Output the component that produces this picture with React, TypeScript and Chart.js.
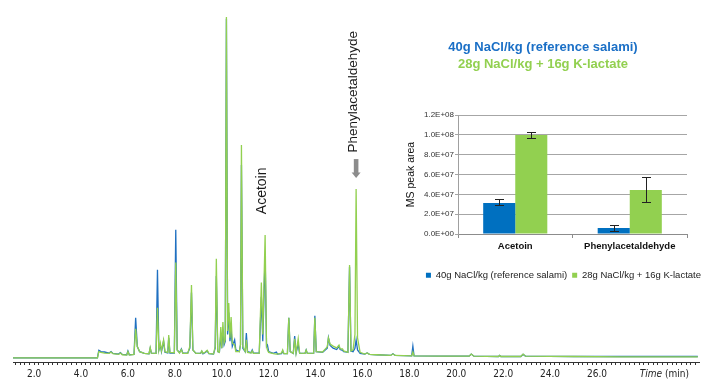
import React, { useEffect, useRef } from 'react';
import { Chart, registerables } from 'chart.js';

Chart.register(...registerables);

// ---------- Chromatogram data (time in min, relative intensity %) ----------
const timeMin = [
  1.10, 4.70, 4.76, 4.85, 5.00, 5.20, 5.28, 5.36, 5.60, 5.68, 5.76, 5.95, 6.00, 6.06, 6.26, 6.33, 6.40, 6.50, 6.70, 6.90,
  6.95, 7.00, 7.20, 7.26, 7.32, 7.38, 7.43, 7.52, 7.58, 7.70, 7.74, 7.79, 7.98, 8.04, 8.10, 8.20, 8.28, 8.34, 8.55, 8.64,
  8.71, 8.77, 8.90, 9.10, 9.15, 9.20, 9.30, 9.38, 9.45, 9.65, 9.72, 9.77, 9.83, 9.90, 9.96, 10.00, 10.05, 10.10, 10.15, 10.20,
  10.25, 10.30, 10.35, 10.40, 10.45, 10.55, 10.60, 10.75, 10.80, 10.84, 10.90, 11.00, 11.05, 11.10, 11.25, 11.30, 11.35, 11.60, 11.69, 11.75,
  11.85, 11.91, 11.95, 12.00, 12.20, 12.33, 12.38, 12.55, 12.60, 12.65, 12.80, 12.86, 12.92, 13.05, 13.11, 13.17, 13.26, 13.32, 13.55, 13.60,
  13.65, 13.92, 13.97, 14.03, 14.30, 14.50, 14.55, 14.62, 14.75, 14.90, 15.00, 15.05, 15.15, 15.20, 15.38, 15.45, 15.51, 15.60, 15.68, 15.73,
  15.79, 15.90, 16.10, 16.20, 16.30, 16.60, 17.20, 17.30, 17.40, 18.10, 18.15, 18.20, 19.50, 20.55, 20.64, 20.75, 21.80, 21.85, 21.90, 22.75,
  22.85, 22.95, 25.00, 27.00, 30.30,
];
const blueSignal = [
  1.2, 1.2, 3.4, 3.0, 2.9, 2.6, 3.0, 2.5, 2.3, 2.7, 2.2, 2.1, 3.2, 2.1, 2.2, 12.8, 4.5, 3.0, 2.5, 2.4,
  4.0, 2.6, 2.5, 26.7, 3.5, 5.0, 3.0, 6.0, 2.8, 2.6, 7.0, 2.6, 2.6, 38.3, 3.5, 2.7, 3.8, 2.6, 2.6, 4.0,
  20.1, 3.5, 2.5, 2.5, 3.1, 2.4, 2.8, 3.2, 2.4, 2.3, 4.0, 24.9, 3.0, 2.8, 8.0, 4.0, 9.0, 5.0, 6.0, 99.5,
  8.0, 14.3, 6.0, 9.3, 4.5, 6.4, 3.5, 3.0, 5.0, 57.1, 4.0, 3.0, 8.4, 3.0, 2.7, 3.5, 2.6, 2.6, 18.9, 6.0,
  31.0, 4.5, 4.9, 3.0, 2.5, 2.9, 2.3, 2.4, 3.2, 2.4, 2.4, 12.8, 3.0, 2.5, 7.5, 2.6, 5.2, 2.6, 2.5, 3.5,
  2.5, 2.6, 13.4, 3.0, 2.8, 4.0, 7.0, 4.8, 4.0, 3.6, 4.5, 3.6, 3.4, 3.0, 2.8, 27.6, 3.2, 3.0, 4.0, 6.4,
  3.5, 2.5, 2.3, 2.6, 2.2, 2.1, 1.9, 2.4, 1.9, 1.8, 4.6, 1.8, 1.7, 1.7, 2.3, 1.7, 1.6, 1.9, 1.6, 1.6,
  2.2, 1.7, 1.6, 1.6, 1.6,
];
const greenSignal = [
  1.2, 1.2, 3.0, 2.8, 2.6, 2.5, 2.9, 2.4, 2.2, 2.6, 2.1, 2.0, 3.0, 2.0, 2.2, 9.6, 4.5, 3.0, 2.5, 2.4,
  4.2, 2.6, 2.5, 15.7, 3.5, 5.5, 3.2, 6.4, 3.0, 2.8, 7.8, 2.8, 2.7, 28.8, 3.5, 2.6, 3.6, 2.5, 2.5, 4.5,
  22.3, 3.5, 2.5, 2.6, 3.2, 2.5, 2.9, 3.4, 2.5, 2.3, 4.5, 29.9, 3.0, 2.8, 10.1, 4.0, 11.6, 5.5, 6.5, 100,
  9.0, 17.1, 7.0, 13.0, 5.5, 4.9, 3.0, 3.0, 5.0, 62.9, 4.5, 3.0, 6.4, 2.8, 2.6, 3.2, 2.5, 2.6, 23.0, 8.0,
  36.8, 4.5, 3.5, 2.8, 2.4, 2.3, 2.3, 2.6, 3.5, 2.4, 2.4, 12.8, 3.0, 2.5, 6.7, 2.6, 6.7, 2.6, 2.5, 3.5,
  2.5, 2.6, 12.8, 3.0, 2.9, 4.4, 7.0, 5.2, 4.6, 4.1, 4.9, 3.8, 3.8, 3.2, 2.8, 28.1, 3.2, 3.5, 8.0, 50.1,
  7.0, 2.8, 2.3, 2.6, 2.2, 2.1, 1.9, 2.3, 1.9, 1.8, 2.9, 1.8, 1.7, 1.7, 2.3, 1.7, 1.6, 1.9, 1.6, 1.6,
  2.3, 1.7, 1.6, 1.5, 1.5,
];
const timeTickValues = [2, 4, 6, 8, 10, 12, 14, 16, 18, 20, 22, 24, 26];
const timeTickLabels = ['2.0', '4.0', '6.0', '8.0', '10.0', '12.0', '14.0', '16.0', '18.0', '20.0', '22.0', '24.0', '26.0'];

// Peak annotations (time, intensity at label centre)
const peakLabels = ['Acetoin', 'Phenylacetaldehyde'];
const peakLabelTime = [11.74, 15.62];
const peakLabelLevel = [49.6, 78.3];
const arrowTime = 15.73;
const arrowFrom = 58.8;
const arrowTo = 53.3;

// ---------- Inset bar chart data ----------
const seriesNames = ['40g NaCl/kg (reference salami)', '28g NaCl/kg + 16g K-lactate'];
const compounds = ['Acetoin', 'Phenylacetaldehyde'];
const blueArea = [3.13e7, 0.6e7];
const greenArea = [9.98e7, 4.44e7];
const blueErrLow = [2.9e7, 0.3e7];
const blueErrHigh = [3.5e7, 0.91e7];
const greenErrLow = [9.71e7, 3.19e7];
const greenErrHigh = [10.25e7, 5.75e7];

const BLUE = '#1F70C1';
const GREEN = '#92D050';
const SANS = '"Liberation Sans", Arial, sans-serif';
const NARROW = '"Liberation Sans Narrow", "Arial Narrow", "DejaVu Sans Condensed", sans-serif';

Chart.defaults.font.family = SANS;

const annotationPlugin = {
  id: 'peakAnnotations',
  afterDatasetsDraw(chart: any) {
    const { ctx, scales, chartArea } = chart;
    const x = scales.x;
    const y = scales.y;
    ctx.save();
    ctx.fillStyle = '#1a1a1a';
    peakLabels.forEach((txt, i) => {
      ctx.save();
      ctx.font = (i === 0 ? '14px ' : '13.5px ') + SANS;
      ctx.translate(x.getPixelForValue(peakLabelTime[i]), y.getPixelForValue(peakLabelLevel[i]));
      ctx.rotate(-Math.PI / 2);
      ctx.textAlign = 'center';
      ctx.textBaseline = 'middle';
      ctx.fillText(txt, 0, 0);
      ctx.restore();
    });
    // arrow
    const ax = x.getPixelForValue(arrowTime);
    const y1 = y.getPixelForValue(arrowFrom);
    const y2 = y.getPixelForValue(arrowTo);
    ctx.fillStyle = '#8C8C8C';
    ctx.fillRect(ax - 2.3, y1, 4.6, y2 - y1 - 5);
    ctx.beginPath();
    ctx.moveTo(ax - 4.5, y2 - 5.5);
    ctx.lineTo(ax + 4.5, y2 - 5.5);
    ctx.lineTo(ax, y2);
    ctx.closePath();
    ctx.fill();
    // axis title
    ctx.fillStyle = '#222';
    ctx.textBaseline = 'middle';
    ctx.textAlign = 'right';
    const ty = chartArea.bottom + 12.5;
    const rx = chartArea.right - 10;
    ctx.font = '10px ' + NARROW;
    ctx.fillText('(min)', rx, ty);
    const w = ctx.measureText('(min)').width;
    ctx.font = 'italic 10px ' + NARROW;
    ctx.fillText('Time', rx - w - 3, ty);
    ctx.restore();
  },
};

const errorBarPlugin = {
  id: 'errorBars',
  afterDatasetsDraw(chart: any) {
    const { ctx } = chart;
    const y = chart.scales.y;
    const lows = [blueErrLow, greenErrLow];
    const highs = [blueErrHigh, greenErrHigh];
    ctx.save();
    ctx.strokeStyle = '#222';
    ctx.lineWidth = 1;
    chart.data.datasets.forEach((_: any, di: number) => {
      const meta = chart.getDatasetMeta(di);
      meta.data.forEach((bar: any, i: number) => {
        const bx = Math.round(bar.x) + 0.5;
        const yl = Math.round(y.getPixelForValue(lows[di][i])) + 0.5;
        const yh = Math.round(y.getPixelForValue(highs[di][i])) + 0.5;
        ctx.beginPath();
        ctx.moveTo(bx, yl);
        ctx.lineTo(bx, yh);
        ctx.moveTo(bx - 4.5, yl);
        ctx.lineTo(bx + 4.5, yl);
        ctx.moveTo(bx - 4.5, yh);
        ctx.lineTo(bx + 4.5, yh);
        ctx.stroke();
      });
    });
    ctx.restore();
  },
};

function fmtExp(v: number) {
  const [m, e] = Number(v).toExponential(1).split('e');
  const sign = e[0] === '-' ? '-' : '+';
  const digits = e.replace(/[+-]/, '').padStart(2, '0');
  return m + 'E' + sign + digits;
}

export default function App() {
  const mainRef = useRef<HTMLCanvasElement | null>(null);
  const insetRef = useRef<HTMLCanvasElement | null>(null);

  useEffect(() => {
    const main = new Chart(mainRef.current as HTMLCanvasElement, {
      type: 'line',
      data: {
        datasets: [
          {
            label: seriesNames[1],
            data: timeMin.map((t, i) => ({ x: t, y: greenSignal[i] })),
            borderColor: GREEN,
            borderWidth: 1.3,
            pointRadius: 0,
            tension: 0,
            order: 0,
          },
          {
            label: seriesNames[0],
            data: timeMin.map((t, i) => ({ x: t, y: blueSignal[i] })),
            borderColor: BLUE,
            borderWidth: 1.3,
            pointRadius: 0,
            tension: 0,
            order: 1,
          },
        ],
      },
      options: {
        animation: false,
        responsive: false,
        maintainAspectRatio: false,
        layout: { padding: { left: 13, right: 7, top: 10, bottom: 0 } },
        plugins: { legend: { display: false }, tooltip: { enabled: false }, title: { display: false } },
        scales: {
          x: {
            type: 'linear',
            min: 1.1,
            max: 30.35,
            afterFit: (s: any) => { s.height = 19; },
            border: { display: true, color: '#333', width: 1 },
            grid: { display: true, drawOnChartArea: false, drawTicks: true, tickLength: 3, color: '#333' },
            ticks: {
              stepSize: 0.2,
              includeBounds: false,
              autoSkip: false,
              maxRotation: 0,
              padding: 3,
              color: '#222',
              font: { family: NARROW, size: 10 },
              callback: (v: any) => {
                const n = Number(v);
                const idx = timeTickValues.findIndex((tv) => Math.abs(tv - n) < 1e-6);
                return idx >= 0 ? timeTickLabels[idx] : '';
              },
            },
          },
          y: { display: false, min: 0, max: 102 },
        },
      },
      plugins: [annotationPlugin],
    } as any);

    const inset = new Chart(insetRef.current as HTMLCanvasElement, {
      type: 'bar',
      data: {
        labels: compounds,
        datasets: [
          { label: seriesNames[0], data: blueArea, backgroundColor: '#0070C0', categoryPercentage: 0.56, barPercentage: 1 },
          { label: seriesNames[1], data: greenArea, backgroundColor: GREEN, categoryPercentage: 0.56, barPercentage: 1 },
        ],
      },
      options: {
        animation: false,
        responsive: false,
        maintainAspectRatio: false,
        layout: { padding: { left: 0, right: 0, top: 0, bottom: 0 } },
        plugins: {
          title: {
            display: true,
            text: seriesNames[0],
            color: '#1A6FC6',
            font: { family: SANS, size: 13, weight: 'bold' },
            padding: { top: 10, bottom: 0 },
          },
          subtitle: {
            display: true,
            text: seriesNames[1],
            color: GREEN,
            font: { family: SANS, size: 13, weight: 'bold' },
            padding: { top: 1.4, bottom: 42.4 },
          },
          legend: {
            position: 'bottom',
            align: 'end',
            labels: { boxWidth: 5, boxHeight: 5, padding: 5, color: '#222', font: { family: SANS, size: 9.5 } },
          },
          tooltip: { enabled: false },
        },
        scales: {
          x: {
            afterFit: (s: any) => { s.height = 31.5; },
            border: { display: true, color: '#8C8C8C' },
            grid: { display: true, drawOnChartArea: false, tickLength: 4, color: '#8C8C8C', offset: true },
            ticks: { color: '#111', padding: 3, font: { family: SANS, size: 9.5, weight: 'bold' } },
          },
          y: {
            min: 0,
            max: 1.2e8,
            afterFit: (s: any) => { s.width = 78; },
            border: { display: true, color: '#A0A0A0' },
            grid: { color: '#A6A6A6', tickLength: 3 },
            ticks: { stepSize: 2e7, padding: 1, color: '#333', font: { family: SANS, size: 8 }, callback: (v: any) => fmtExp(v) },
            title: { display: true, text: 'MS peak area', color: '#111', font: { family: SANS, size: 10.5 }, padding: { top: 25, bottom: 0 } },
          },
          yRight: {
            position: 'right',
            display: true,
            afterFit: (s: any) => { s.width = 19; },
            grid: { display: false },
            border: { display: false },
            ticks: { display: false },
          },
        },
      },
      plugins: [errorBarPlugin],
    } as any);

    return () => {
      main.destroy();
      inset.destroy();
    };
  }, []);

  return (
    <div style={{ position: 'fixed', left: 0, top: 0, width: 706, height: 381, overflow: 'hidden', background: '#fff' }}>
      <canvas ref={mainRef} width={706} height={381} style={{ position: 'absolute', left: 0, top: 0, width: 706, height: 381 }} />
      <canvas ref={insetRef} width={326} height={260} style={{ position: 'absolute', left: 380, top: 30, width: 326, height: 260 }} />
    </div>
  );
}
